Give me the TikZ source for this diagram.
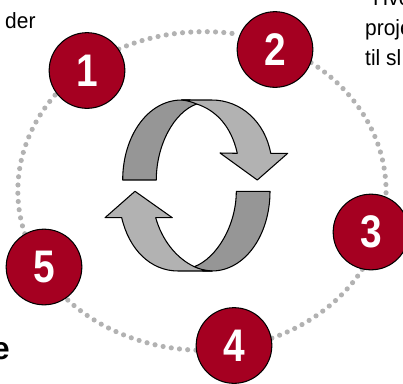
\documentclass[tikz,border=0pt]{standalone}
\usepackage{fontspec}
\usetikzlibrary{backgrounds}
\setmainfont{Liberation Sans}
\newfontfamily\numfont[FakeStretch=0.85]{Liberation Sans Bold}
\newfontfamily\sidefont[FakeStretch=0.95]{Liberation Sans}
\definecolor{wine}{HTML}{A50021}
\definecolor{darkband}{HTML}{969696}
\definecolor{lightband}{HTML}{B2B2B2}
\tikzset{
  numdisc/.style={circle,draw=black,line width=0.9pt,fill=wine,text=white,minimum size=2.27cm,font=\fontsize{39}{39}\numfont},
  ringdots/.style={draw=lightband,line width=4.4pt,line cap=round,dash pattern=on 0pt off 7.05pt},
  bandline/.style={draw=black,line width=0.9pt,line join=round},
  sidetext/.style={anchor=base west,font=\fontsize{18.8}{18.8}\sidefont}
}
\begin{document}
\begin{tikzpicture}[scale=0.03]
\tikzstyle{every node}+=[inner sep=0pt]
\useasboundingbox (0,0) rectangle (403,-383);
\node [sidetext] (txtder) at (5,-28) {der};
\node [sidetext] (txthve) at (373,-5) {Hve};
\node [sidetext] (txtproje) at (365,-35) {proje};
\node [sidetext] (txttil) at (365,-65) {til sl};
\node [anchor=base east,font=\fontsize{27}{27}\selectfont\bfseries] (txte) at (10,-359.5) {e};
\node [numdisc] (n1) at (87,-70.5) {1};
\node [numdisc] (n2) at (275,-49.5) {2};
\node [numdisc] (n3) at (371,-232) {3};
\node [numdisc] (n4) at (234,-345.5) {4};
\node [numdisc] (n5) at (44,-267) {5};
\begin{scope}[on background layer]
\draw [ringdots] (n1.34) .. controls (156,-32.8) and (199.1,-27.9) .. (n2.157);
\draw [ringdots] (n2.-20) .. controls (359.7,-93.5) and (388,-143.7) .. (n3.67);
\draw [ringdots] (n3.-103) .. controls (342,-300.3) and (309.8,-324.9) .. (n4.11);
\draw [ringdots] (n4.187) .. controls (146.2,-348.4) and (98.7,-329.4) .. (n5.-55);
\draw [ringdots] (n5.120) .. controls (8.8,-185.9) and (20.7,-133.2) .. (n1.217);
\end{scope}
% upper arrow
\draw [bandline,fill=darkband] (122.7,-180) .. controls (122.7,-136) and (148,-100) .. (181.7,-100)
  -- (190,-100) -- (196.7,-104) .. controls (174,-112) and (156.3,-145) .. (156.3,-180) -- cycle;
\draw [bandline,fill=lightband] (181.7,-100) -- (211.7,-100) .. controls (241,-100) and (265,-122) .. (270.7,-153.3)
  -- (287.7,-153.3) -- (257.3,-180) -- (220,-153) -- (237.3,-153.3)
  .. controls (231,-125) and (215,-110) .. (196.7,-104) .. controls (192,-102) and (187,-100.5) .. cycle;
% lower arrow
\draw [bandline,fill=darkband] (270,-191.3) .. controls (270,-235) and (245,-271) .. (211.7,-271)
  -- (203,-271) -- (194.3,-266.7) .. controls (217,-258) and (236.3,-225) .. (236.3,-191.3) -- cycle;
\draw [bandline,fill=lightband] (211.7,-271) -- (178.3,-271) .. controls (150,-271) and (129,-249) .. (121.7,-217.7)
  -- (105,-217.7) -- (135,-191.3) -- (172.3,-217.7) -- (155.7,-217.7)
  .. controls (162,-240) and (176,-258) .. (194.3,-266.7) .. controls (199,-269) and (205,-270.5) .. cycle;
\end{tikzpicture}
\end{document}
